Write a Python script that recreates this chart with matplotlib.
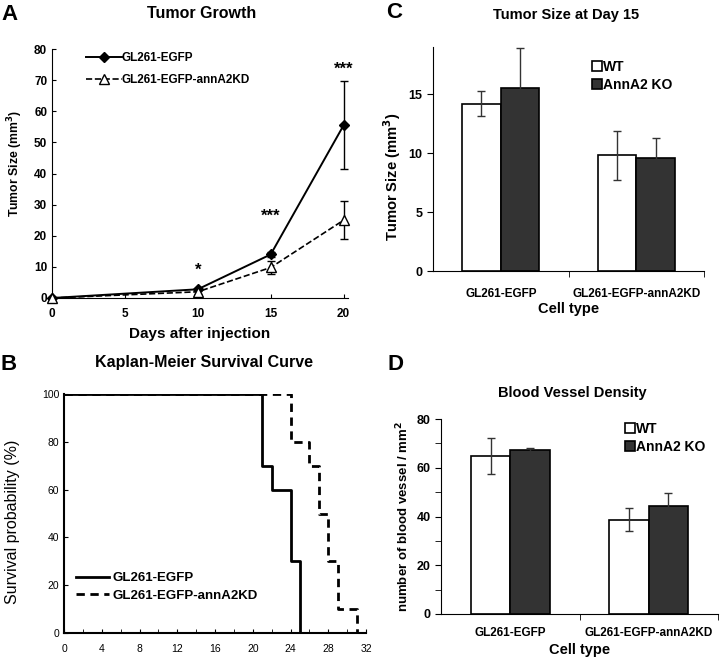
import numpy as np
import matplotlib
matplotlib.use("Agg")
import matplotlib.pyplot as plt
from matplotlib.lines import Line2D
from matplotlib.ticker import MultipleLocator, FixedLocator

plt.rcParams['font.family'] = ['Liberation Sans', 'DejaVu Sans']

# Panel A: tumor growth
days = [0, 10, 15, 20]
egfp_size = [0, 2.8, 14.0, 55.5]
egfp_err = [0, 0.5, 0.7, 14.2]
kd_size = [0, 2.0, 9.8, 25.0]
kd_err = [0, 0.8, 2.0, 6.1]
stars = ['*', '***', '***']
star_x = [10, 15, 20]
star_y = [6.5, 24, 71]

# Panel B: Kaplan-Meier
km_egfp_t = [0, 21, 22, 24, 25]
km_egfp_s = [100, 70, 60, 30, 0]
km_kd_t = [0, 24, 26, 27, 28, 29, 31]
km_kd_s = [100, 80, 70, 50, 30, 10, 0]

# Panels C and D: bar charts
cell_types = ['GL261-EGFP', 'GL261-EGFP-annA2KD']
size_wt = [14.2, 9.8]
size_wt_err = [1.05, 2.05]
size_ko = [15.5, 9.6]
size_ko_err = [3.4, 1.7]
vessel_wt = [64.8, 38.6]
vessel_wt_err = [7.4, 4.7]
vessel_ko = [67.2, 44.5]
vessel_ko_err = [1.1, 5.0]

W, H = 720, 661
fig = plt.figure(figsize=(W / 100, H / 100), dpi=100)


def box(l, t, r, b):
    return [l / W, 1 - b / H, (r - l) / W, (b - t) / H]


# ---------- A ----------
axA = fig.add_axes(box(52, 49, 348, 298))
axA.errorbar(days, egfp_size, yerr=egfp_err, color='black', lw=1.4, marker='D', ms=5,
             mfc='black', capsize=3, elinewidth=1, clip_on=False, zorder=3)
axA.errorbar(days, kd_size, yerr=kd_err, color='black', lw=1.2, ls='--', marker='^', ms=7,
             mfc='white', capsize=3, elinewidth=1, clip_on=False, zorder=3)
for s, x, y in zip(stars, star_x, star_y):
    axA.text(x, y, s, ha='center', va='bottom', fontsize=12, fontweight='bold')
axA.set_xlim(0, 20.3)
axA.set_ylim(0, 80)
axA.set_xticks([0, 5, 10, 15, 20])
axA.set_yticks(range(0, 81, 10))
axA.tick_params(direction='in', length=3, labelsize=8.5)
axA.tick_params(axis='x', pad=7)
for lab in axA.get_xticklabels() + axA.get_yticklabels():
    lab.set_fontweight('bold')
axA.spines[['top', 'right']].set_visible(False)
axA.set_xlabel('Days after injection', fontsize=11, fontweight='bold', labelpad=5)
axA.set_ylabel('Tumor Size (mm$^\\mathbf{3}$)', fontsize=8.8, fontweight='bold')
axA.yaxis.set_label_coords(-0.09, 0.54)
hA = [Line2D([], [], color='black', lw=1.4, marker='D', ms=5, mfc='black'),
      Line2D([], [], color='black', lw=1.2, ls='--', marker='^', ms=7, mfc='white')]
axA.legend(hA, ['GL261-EGFP', 'GL261-EGFP-annA2KD'], loc='upper left',
           bbox_to_anchor=(0.08, 1.03), frameon=False,
           prop={'size': 8.5, 'weight': 'bold'}, handlelength=3.0, handletextpad=0.0,
           labelspacing=0.85)

# ---------- B ----------
axB = fig.add_axes(box(64, 394, 366, 633))
axB.step(km_egfp_t + [km_egfp_t[-1]], km_egfp_s + [0], where='post', color='black', lw=2,
         label='GL261-EGFP')
axB.step(km_kd_t, km_kd_s, where='post', color='black', lw=2, ls=(0, (3, 2)),
         label='GL261-EGFP-annA2KD')
axB.set_xlim(0, 32)
axB.set_ylim(0, 100)
axB.xaxis.set_major_locator(MultipleLocator(4))
axB.xaxis.set_minor_locator(MultipleLocator(2))
axB.yaxis.set_major_locator(MultipleLocator(20))
axB.tick_params(which='both', direction='in', length=3, labelsize=7.5)
axB.tick_params(axis='x', pad=8)
axB.spines[['top', 'right']].set_visible(False)
axB.spines[['left', 'bottom']].set_linewidth(1.5)
axB.set_ylabel('Survival probability (%)', fontsize=11.5)
axB.yaxis.set_label_coords(-0.145, 0.464)
axB.legend(loc='lower left', bbox_to_anchor=(0.0, 0.08), frameon=False,
           prop={'size': 9.5, 'weight': 'bold'}, handlelength=2.5, handletextpad=0.3,
           labelspacing=0.4)


# ---------- C & D ----------
def bars(ax, wt, wt_err, ko, ko_err, leg_anchor, pad):
    x = np.arange(len(cell_types))
    bw = 0.285
    ek = dict(ecolor='#333333', elinewidth=1, capsize=3, capthick=1)
    ax.bar(x - bw / 2, wt, bw, yerr=wt_err, color='white', edgecolor='black', lw=1.2,
           error_kw=ek, label='WT')
    ax.bar(x + bw / 2, ko, bw, yerr=ko_err, color='#333333', edgecolor='black', lw=1.2,
           error_kw=ek, label='AnnA2 KO')
    ax.set_xlim(-0.5, 1.5)
    ax.set_xticks(x)
    ax.set_xticklabels(cell_types, fontsize=8.5, fontweight='bold')
    ax.xaxis.set_minor_locator(FixedLocator([0.5, 1.5]))
    ax.tick_params(axis='x', which='major', length=0, pad=pad)
    ax.tick_params(axis='x', which='minor', length=4, direction='out')
    ax.tick_params(axis='y', which='both', direction='out', length=4, labelsize=9)
    for lab in ax.get_yticklabels():
        lab.set_fontweight('bold')
    ax.spines[['top', 'right']].set_visible(False)
    ax.legend(loc='upper left', bbox_to_anchor=leg_anchor, frameon=False,
              prop={'size': 10, 'weight': 'bold'}, handlelength=0.7, handleheight=0.7,
              handletextpad=0.1, labelspacing=0.3)


axC = fig.add_axes(box(433, 47, 704, 271))
bars(axC, size_wt, size_wt_err, size_ko, size_ko_err, (0.54, 1.0), 12)
axC.set_ylim(0, 19)
axC.set_yticks([0, 5, 10, 15])
axC.set_ylabel('Tumor Size (mm$^\\mathbf{3}$)', fontsize=10.6, fontweight='bold')
axC.yaxis.set_label_coords(-0.11, 0.42)
axC.set_xlabel('Cell type', fontsize=10.5, fontweight='bold', labelpad=2)

axD = fig.add_axes(box(441, 419, 718, 614))
bars(axD, vessel_wt, vessel_wt_err, vessel_ko, vessel_ko_err, (0.62, 1.05), 9)
axD.set_ylim(0, 80)
axD.yaxis.set_major_locator(MultipleLocator(20))
axD.yaxis.set_minor_locator(MultipleLocator(10))
axD.set_ylabel('number of blood vessel / mm$^\\mathbf{2}$', fontsize=9.5, fontweight='bold', labelpad=4)
axD.set_xlabel('Cell type', fontsize=10.5, fontweight='bold', labelpad=3)

# titles and panel letters
fig.text(202 / W, 1 - 14 / H, 'Tumor Growth', ha='center', va='center', fontsize=11.5, fontweight='bold')
fig.text(204 / W, 1 - 363 / H, 'Kaplan-Meier Survival Curve', ha='center', va='center', fontsize=11.5, fontweight='bold')
fig.text(566 / W, 1 - 15 / H, 'Tumor Size at Day 15', ha='center', va='center', fontsize=10.5, fontweight='bold')
fig.text(572 / W, 1 - 393 / H, 'Blood Vessel Density', ha='center', va='center', fontsize=10.5, fontweight='bold')
for letter, x, y in [('A', 10, 14), ('B', 9, 365), ('C', 394, 13), ('D', 395, 364)]:
    fig.text(x / W, 1 - y / H, letter, ha='center', va='center', fontsize=16, fontweight='bold')

fig.savefig('out.png', dpi=100)
